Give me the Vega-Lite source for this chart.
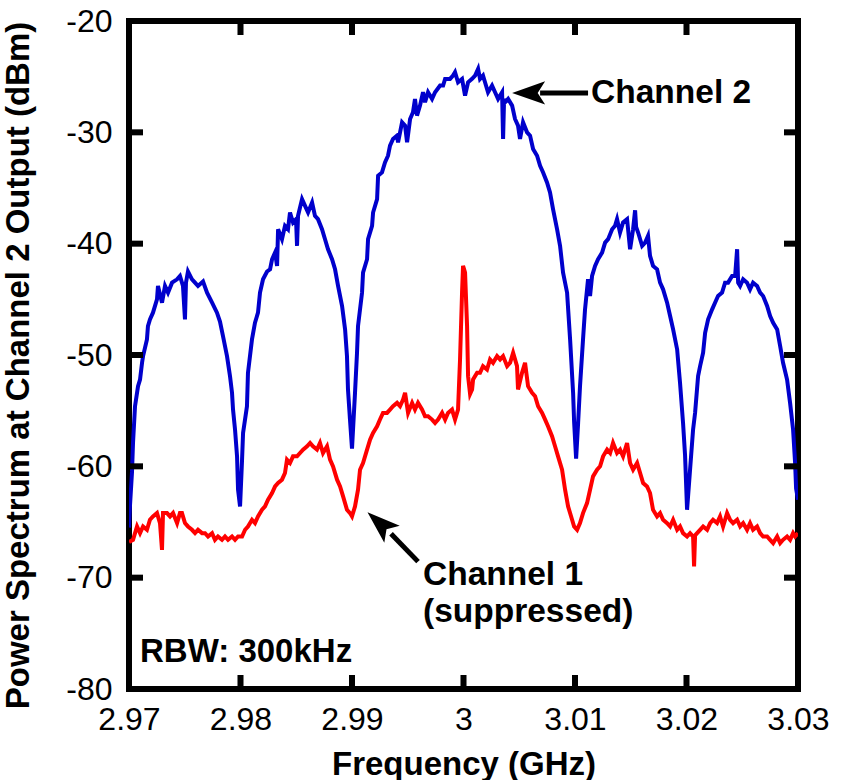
{
  "$schema": "https://vega.github.io/schema/vega-lite/v6.json",
  "width": 669,
  "height": 668,
  "autosize": {"type": "none"},
  "padding": {"left": 129, "top": 21, "right": 48, "bottom": 91},
  "background": "white",
  "config": {
    "view": {"stroke": "black", "strokeWidth": 6},
    "point": {"filled": true, "color": "black", "opacity": 1},
    "axis": {
      "domain": false,
      "grid": false,
      "tickColor": "black",
      "tickOpacity": 0,
      "tickWidth": 5,
      "tickSize": -12,
      "labelFont": "Liberation Sans",
      "labelFontSize": 32,
      "labelColor": "black",
      "titleFont": "Liberation Sans",
      "titleFontSize": 33,
      "titleFontWeight": "bold",
      "titleColor": "black"
    }
  },
  "datasets": {
    "blue": [
      {"f": 2.97, "v": -65.5}, {"f": 2.97009, "v": -63.5}, {"f": 2.97027, "v": -60.5}, {"f": 2.97036, "v": -57.9}, {"f": 2.97054, "v": -54.6}, {"f": 2.97081, "v": -52.8}, {"f": 2.97099, "v": -52.2}, {"f": 2.97117, "v": -50.7}, {"f": 2.97126, "v": -50.1}, {"f": 2.97161, "v": -48.6}, {"f": 2.9717, "v": -47.4}, {"f": 2.97188, "v": -46.8}, {"f": 2.97215, "v": -46.2}, {"f": 2.97251, "v": -45.0}, {"f": 2.9726, "v": -43.8}, {"f": 2.97296, "v": -45.3}, {"f": 2.97323, "v": -43.8}, {"f": 2.9735, "v": -44.4}, {"f": 2.97386, "v": -43.5}, {"f": 2.97431, "v": -43.2}, {"f": 2.97457, "v": -42.9}, {"f": 2.97484, "v": -43.8}, {"f": 2.97502, "v": -46.8}, {"f": 2.97511, "v": -43.5}, {"f": 2.97529, "v": -42.5}, {"f": 2.97565, "v": -43.2}, {"f": 2.97592, "v": -43.5}, {"f": 2.97619, "v": -43.8}, {"f": 2.97664, "v": -43.4}, {"f": 2.977, "v": -44.4}, {"f": 2.97745, "v": -45.3}, {"f": 2.97789, "v": -46.2}, {"f": 2.97816, "v": -47.0}, {"f": 2.97843, "v": -48.3}, {"f": 2.97879, "v": -50.1}, {"f": 2.97906, "v": -51.9}, {"f": 2.97924, "v": -53.4}, {"f": 2.97933, "v": -54.9}, {"f": 2.97951, "v": -56.7}, {"f": 2.97969, "v": -59.1}, {"f": 2.97978, "v": -62.1}, {"f": 2.97996, "v": -63.6}, {"f": 2.98014, "v": -59.4}, {"f": 2.98023, "v": -57.0}, {"f": 2.98058, "v": -54.6}, {"f": 2.98067, "v": -51.6}, {"f": 2.98103, "v": -48.6}, {"f": 2.9813, "v": -47.1}, {"f": 2.98157, "v": -46.2}, {"f": 2.98175, "v": -44.4}, {"f": 2.98202, "v": -43.2}, {"f": 2.98238, "v": -42.5}, {"f": 2.98265, "v": -42.3}, {"f": 2.98283, "v": -41.4}, {"f": 2.9831, "v": -40.8}, {"f": 2.98328, "v": -42.0}, {"f": 2.98337, "v": -38.7}, {"f": 2.98372, "v": -39.6}, {"f": 2.98399, "v": -38.4}, {"f": 2.98426, "v": -38.7}, {"f": 2.98444, "v": -37.2}, {"f": 2.98471, "v": -38.1}, {"f": 2.98498, "v": -37.8}, {"f": 2.98507, "v": -40.2}, {"f": 2.98516, "v": -37.5}, {"f": 2.98552, "v": -36.0}, {"f": 2.98579, "v": -36.6}, {"f": 2.98606, "v": -37.2}, {"f": 2.98642, "v": -36.3}, {"f": 2.98668, "v": -37.5}, {"f": 2.98695, "v": -37.8}, {"f": 2.98731, "v": -38.7}, {"f": 2.98758, "v": -39.6}, {"f": 2.98785, "v": -40.5}, {"f": 2.98821, "v": -41.4}, {"f": 2.98848, "v": -42.3}, {"f": 2.98875, "v": -43.8}, {"f": 2.98911, "v": -45.6}, {"f": 2.98938, "v": -47.7}, {"f": 2.98955, "v": -50.1}, {"f": 2.98964, "v": -53.1}, {"f": 2.98982, "v": -55.8}, {"f": 2.99, "v": -58.4}, {"f": 2.99027, "v": -53.4}, {"f": 2.99045, "v": -49.8}, {"f": 2.99054, "v": -47.4}, {"f": 2.9909, "v": -44.4}, {"f": 2.99099, "v": -42.6}, {"f": 2.99135, "v": -41.4}, {"f": 2.99144, "v": -39.6}, {"f": 2.9918, "v": -38.4}, {"f": 2.99189, "v": -37.2}, {"f": 2.99225, "v": -36.0}, {"f": 2.99234, "v": -33.9}, {"f": 2.99269, "v": -33.6}, {"f": 2.99296, "v": -32.7}, {"f": 2.99323, "v": -32.1}, {"f": 2.99341, "v": -31.2}, {"f": 2.99368, "v": -30.6}, {"f": 2.99404, "v": -30.3}, {"f": 2.99413, "v": -30.9}, {"f": 2.99449, "v": -29.1}, {"f": 2.99476, "v": -29.4}, {"f": 2.99494, "v": -30.9}, {"f": 2.99521, "v": -28.8}, {"f": 2.99547, "v": -28.2}, {"f": 2.99565, "v": -27.0}, {"f": 2.99583, "v": -28.5}, {"f": 2.9961, "v": -27.6}, {"f": 2.99637, "v": -26.4}, {"f": 2.99655, "v": -27.3}, {"f": 2.99682, "v": -26.4}, {"f": 2.99718, "v": -27.0}, {"f": 2.99745, "v": -26.4}, {"f": 2.9979, "v": -25.8}, {"f": 2.99817, "v": -25.8}, {"f": 2.99835, "v": -25.2}, {"f": 2.99879, "v": -25.2}, {"f": 2.99906, "v": -24.9}, {"f": 2.99924, "v": -24.6}, {"f": 2.99951, "v": -25.5}, {"f": 2.99987, "v": -25.2}, {"f": 3.00014, "v": -26.7}, {"f": 3.00041, "v": -25.5}, {"f": 3.00077, "v": -25.2}, {"f": 3.00104, "v": -24.9}, {"f": 3.00131, "v": -24.3}, {"f": 3.00148, "v": -25.2}, {"f": 3.00175, "v": -24.9}, {"f": 3.00193, "v": -25.5}, {"f": 3.0022, "v": -26.4}, {"f": 3.00256, "v": -25.8}, {"f": 3.00283, "v": -26.4}, {"f": 3.0031, "v": -27.0}, {"f": 3.00346, "v": -26.4}, {"f": 3.00355, "v": -30.6}, {"f": 3.00364, "v": -27.0}, {"f": 3.00373, "v": -27.3}, {"f": 3.004, "v": -27.0}, {"f": 3.00436, "v": -27.6}, {"f": 3.00462, "v": -28.8}, {"f": 3.00489, "v": -29.4}, {"f": 3.00507, "v": -30.6}, {"f": 3.00534, "v": -29.1}, {"f": 3.0057, "v": -30.0}, {"f": 3.00597, "v": -30.3}, {"f": 3.00624, "v": -31.5}, {"f": 3.0066, "v": -32.1}, {"f": 3.00687, "v": -33.0}, {"f": 3.00714, "v": -33.6}, {"f": 3.00749, "v": -34.5}, {"f": 3.00776, "v": -35.4}, {"f": 3.00803, "v": -36.9}, {"f": 3.00839, "v": -38.7}, {"f": 3.00866, "v": -40.2}, {"f": 3.00893, "v": -42.6}, {"f": 3.00929, "v": -44.4}, {"f": 3.00956, "v": -48.6}, {"f": 3.00983, "v": -53.4}, {"f": 3.00992, "v": -56.0}, {"f": 3.0101, "v": -59.3}, {"f": 3.01028, "v": -56.1}, {"f": 3.01045, "v": -52.8}, {"f": 3.01072, "v": -48.6}, {"f": 3.0109, "v": -45.9}, {"f": 3.01117, "v": -43.2}, {"f": 3.01135, "v": -44.7}, {"f": 3.01153, "v": -42.9}, {"f": 3.0118, "v": -42.0}, {"f": 3.01207, "v": -41.4}, {"f": 3.01243, "v": -40.8}, {"f": 3.0127, "v": -39.9}, {"f": 3.01297, "v": -39.6}, {"f": 3.01333, "v": -38.7}, {"f": 3.01359, "v": -38.4}, {"f": 3.01377, "v": -37.8}, {"f": 3.01404, "v": -39.0}, {"f": 3.01431, "v": -38.1}, {"f": 3.01467, "v": -37.8}, {"f": 3.01494, "v": -40.5}, {"f": 3.01521, "v": -38.7}, {"f": 3.01539, "v": -37.0}, {"f": 3.01548, "v": -38.5}, {"f": 3.01566, "v": -39.0}, {"f": 3.01602, "v": -40.2}, {"f": 3.01629, "v": -39.9}, {"f": 3.01655, "v": -39.3}, {"f": 3.01673, "v": -41.1}, {"f": 3.017, "v": -42.0}, {"f": 3.01736, "v": -42.3}, {"f": 3.01763, "v": -43.5}, {"f": 3.0179, "v": -44.1}, {"f": 3.01826, "v": -45.3}, {"f": 3.01853, "v": -46.5}, {"f": 3.0188, "v": -47.7}, {"f": 3.01916, "v": -49.5}, {"f": 3.01942, "v": -52.5}, {"f": 3.01969, "v": -56.1}, {"f": 3.01987, "v": -59.0}, {"f": 3.02005, "v": -63.9}, {"f": 3.02032, "v": -60.3}, {"f": 3.02059, "v": -56.7}, {"f": 3.02077, "v": -55.2}, {"f": 3.02104, "v": -51.9}, {"f": 3.02122, "v": -51.0}, {"f": 3.02149, "v": -49.8}, {"f": 3.02167, "v": -48.0}, {"f": 3.02194, "v": -46.8}, {"f": 3.0223, "v": -45.9}, {"f": 3.02256, "v": -45.3}, {"f": 3.02283, "v": -44.7}, {"f": 3.02319, "v": -44.4}, {"f": 3.02346, "v": -43.5}, {"f": 3.02373, "v": -43.5}, {"f": 3.02409, "v": -42.9}, {"f": 3.02436, "v": -42.9}, {"f": 3.02454, "v": -40.5}, {"f": 3.02463, "v": -43.5}, {"f": 3.02481, "v": -43.8}, {"f": 3.02508, "v": -43.2}, {"f": 3.02543, "v": -43.5}, {"f": 3.0257, "v": -44.1}, {"f": 3.02597, "v": -43.5}, {"f": 3.02633, "v": -43.8}, {"f": 3.0266, "v": -44.4}, {"f": 3.02687, "v": -44.7}, {"f": 3.02723, "v": -45.6}, {"f": 3.0275, "v": -46.5}, {"f": 3.02777, "v": -47.1}, {"f": 3.02813, "v": -47.7}, {"f": 3.0284, "v": -49.2}, {"f": 3.02866, "v": -50.7}, {"f": 3.02902, "v": -52.2}, {"f": 3.02929, "v": -54.3}, {"f": 3.02956, "v": -56.7}, {"f": 3.02974, "v": -59.7}, {"f": 3.02983, "v": -62.0}, {"f": 3.03, "v": -63.0}
    ],
    "red": [
      {"f": 2.97, "v": -66.8}, {"f": 2.97036, "v": -66.6}, {"f": 2.97072, "v": -65.4}, {"f": 2.97099, "v": -66.0}, {"f": 2.97126, "v": -65.4}, {"f": 2.97161, "v": -65.7}, {"f": 2.97188, "v": -64.8}, {"f": 2.97215, "v": -64.5}, {"f": 2.97251, "v": -64.2}, {"f": 2.97278, "v": -65.1}, {"f": 2.97296, "v": -67.5}, {"f": 2.97305, "v": -64.2}, {"f": 2.97341, "v": -64.2}, {"f": 2.97368, "v": -64.5}, {"f": 2.97395, "v": -64.2}, {"f": 2.97431, "v": -65.1}, {"f": 2.97457, "v": -64.2}, {"f": 2.97475, "v": -64.2}, {"f": 2.97502, "v": -65.1}, {"f": 2.97529, "v": -65.4}, {"f": 2.97565, "v": -65.7}, {"f": 2.97592, "v": -66.0}, {"f": 2.97619, "v": -65.7}, {"f": 2.97655, "v": -66.0}, {"f": 2.97682, "v": -66.0}, {"f": 2.97709, "v": -66.3}, {"f": 2.97745, "v": -66.0}, {"f": 2.97771, "v": -66.6}, {"f": 2.97798, "v": -66.3}, {"f": 2.97834, "v": -66.6}, {"f": 2.97861, "v": -66.3}, {"f": 2.97888, "v": -66.6}, {"f": 2.97924, "v": -66.3}, {"f": 2.97951, "v": -66.6}, {"f": 2.97978, "v": -66.3}, {"f": 2.98014, "v": -66.3}, {"f": 2.98041, "v": -65.7}, {"f": 2.98067, "v": -65.4}, {"f": 2.98103, "v": -64.8}, {"f": 2.9813, "v": -65.1}, {"f": 2.98157, "v": -64.5}, {"f": 2.98193, "v": -63.9}, {"f": 2.9822, "v": -63.6}, {"f": 2.98247, "v": -63.0}, {"f": 2.98283, "v": -62.4}, {"f": 2.9831, "v": -61.8}, {"f": 2.98337, "v": -61.5}, {"f": 2.98372, "v": -61.2}, {"f": 2.98399, "v": -60.6}, {"f": 2.98417, "v": -59.4}, {"f": 2.98444, "v": -59.7}, {"f": 2.98471, "v": -59.1}, {"f": 2.98507, "v": -59.1}, {"f": 2.98534, "v": -58.8}, {"f": 2.98561, "v": -58.5}, {"f": 2.98597, "v": -58.2}, {"f": 2.98624, "v": -57.9}, {"f": 2.9865, "v": -58.2}, {"f": 2.98686, "v": -58.5}, {"f": 2.98713, "v": -57.9}, {"f": 2.9874, "v": -58.8}, {"f": 2.98776, "v": -58.2}, {"f": 2.98803, "v": -59.4}, {"f": 2.9883, "v": -60.0}, {"f": 2.98866, "v": -61.2}, {"f": 2.98893, "v": -61.8}, {"f": 2.9892, "v": -62.7}, {"f": 2.98955, "v": -63.9}, {"f": 2.98982, "v": -64.2}, {"f": 2.99, "v": -64.5}, {"f": 2.99027, "v": -63.6}, {"f": 2.99054, "v": -62.1}, {"f": 2.99072, "v": -60.3}, {"f": 2.99099, "v": -59.7}, {"f": 2.99135, "v": -58.5}, {"f": 2.99162, "v": -57.6}, {"f": 2.99189, "v": -57.0}, {"f": 2.99225, "v": -56.4}, {"f": 2.99251, "v": -55.8}, {"f": 2.99278, "v": -55.2}, {"f": 2.99314, "v": -55.2}, {"f": 2.99341, "v": -54.9}, {"f": 2.99368, "v": -54.6}, {"f": 2.99404, "v": -54.3}, {"f": 2.99431, "v": -54.6}, {"f": 2.99458, "v": -54.0}, {"f": 2.99476, "v": -53.4}, {"f": 2.99503, "v": -55.2}, {"f": 2.99539, "v": -54.3}, {"f": 2.99565, "v": -54.9}, {"f": 2.99592, "v": -54.3}, {"f": 2.99628, "v": -54.9}, {"f": 2.99655, "v": -55.5}, {"f": 2.99682, "v": -55.5}, {"f": 2.99718, "v": -55.8}, {"f": 2.99745, "v": -56.1}, {"f": 2.99772, "v": -55.8}, {"f": 2.99808, "v": -55.2}, {"f": 2.99835, "v": -55.8}, {"f": 2.99861, "v": -55.2}, {"f": 2.99897, "v": -54.9}, {"f": 2.99924, "v": -55.8}, {"f": 2.99951, "v": -54.9}, {"f": 2.99969, "v": -50.4}, {"f": 2.99987, "v": -44.4}, {"f": 2.99996, "v": -42.0}, {"f": 3.00014, "v": -42.6}, {"f": 3.00032, "v": -47.4}, {"f": 3.00041, "v": -51.9}, {"f": 3.00059, "v": -53.5}, {"f": 3.00077, "v": -53.1}, {"f": 3.00086, "v": -52.2}, {"f": 3.00122, "v": -51.6}, {"f": 3.00148, "v": -51.6}, {"f": 3.00175, "v": -51.0}, {"f": 3.00211, "v": -51.3}, {"f": 3.00238, "v": -50.4}, {"f": 3.00265, "v": -50.7}, {"f": 3.00301, "v": -50.1}, {"f": 3.00328, "v": -50.4}, {"f": 3.00355, "v": -50.1}, {"f": 3.00391, "v": -51.0}, {"f": 3.00418, "v": -50.7}, {"f": 3.00445, "v": -49.8}, {"f": 3.0048, "v": -51.0}, {"f": 3.00489, "v": -53.1}, {"f": 3.00525, "v": -51.6}, {"f": 3.00552, "v": -50.7}, {"f": 3.00579, "v": -52.8}, {"f": 3.00615, "v": -53.4}, {"f": 3.00642, "v": -53.7}, {"f": 3.00669, "v": -54.6}, {"f": 3.00705, "v": -55.2}, {"f": 3.00732, "v": -55.8}, {"f": 3.00758, "v": -56.4}, {"f": 3.00794, "v": -57.3}, {"f": 3.00821, "v": -58.2}, {"f": 3.00848, "v": -59.1}, {"f": 3.00884, "v": -60.3}, {"f": 3.00911, "v": -62.1}, {"f": 3.00938, "v": -63.6}, {"f": 3.00974, "v": -64.8}, {"f": 3.00992, "v": -65.4}, {"f": 3.01019, "v": -65.7}, {"f": 3.01045, "v": -65.1}, {"f": 3.01072, "v": -64.2}, {"f": 3.01108, "v": -63.3}, {"f": 3.01135, "v": -62.1}, {"f": 3.01162, "v": -60.9}, {"f": 3.01198, "v": -60.3}, {"f": 3.01225, "v": -60.0}, {"f": 3.01252, "v": -59.1}, {"f": 3.01288, "v": -58.5}, {"f": 3.01315, "v": -58.8}, {"f": 3.01341, "v": -57.9}, {"f": 3.01377, "v": -58.8}, {"f": 3.01404, "v": -58.5}, {"f": 3.01431, "v": -59.1}, {"f": 3.01467, "v": -57.9}, {"f": 3.01494, "v": -59.7}, {"f": 3.01521, "v": -60.3}, {"f": 3.01557, "v": -59.7}, {"f": 3.01584, "v": -60.6}, {"f": 3.01611, "v": -61.5}, {"f": 3.01646, "v": -61.8}, {"f": 3.01673, "v": -62.4}, {"f": 3.017, "v": -63.9}, {"f": 3.01736, "v": -64.5}, {"f": 3.01763, "v": -64.2}, {"f": 3.0179, "v": -64.8}, {"f": 3.01826, "v": -65.1}, {"f": 3.01853, "v": -65.4}, {"f": 3.0188, "v": -64.8}, {"f": 3.01916, "v": -65.7}, {"f": 3.01942, "v": -65.4}, {"f": 3.01969, "v": -66.0}, {"f": 3.02005, "v": -66.3}, {"f": 3.02032, "v": -66.0}, {"f": 3.02059, "v": -66.3}, {"f": 3.02068, "v": -69.0}, {"f": 3.02077, "v": -66.2}, {"f": 3.02095, "v": -66.0}, {"f": 3.02122, "v": -65.7}, {"f": 3.02149, "v": -65.4}, {"f": 3.02185, "v": -65.7}, {"f": 3.02212, "v": -65.1}, {"f": 3.02238, "v": -64.8}, {"f": 3.02274, "v": -65.1}, {"f": 3.02301, "v": -64.5}, {"f": 3.02328, "v": -65.4}, {"f": 3.02364, "v": -64.2}, {"f": 3.02391, "v": -64.8}, {"f": 3.02418, "v": -65.1}, {"f": 3.02454, "v": -64.8}, {"f": 3.02481, "v": -65.4}, {"f": 3.02508, "v": -65.1}, {"f": 3.02543, "v": -65.7}, {"f": 3.0257, "v": -65.1}, {"f": 3.02597, "v": -65.7}, {"f": 3.02633, "v": -65.4}, {"f": 3.0266, "v": -66.0}, {"f": 3.02687, "v": -66.3}, {"f": 3.02723, "v": -66.3}, {"f": 3.0275, "v": -66.6}, {"f": 3.02777, "v": -66.9}, {"f": 3.02813, "v": -66.3}, {"f": 3.0284, "v": -66.9}, {"f": 3.02866, "v": -66.6}, {"f": 3.02902, "v": -66.3}, {"f": 3.02929, "v": -66.6}, {"f": 3.02956, "v": -66.0}, {"f": 3.02974, "v": -66.3}, {"f": 3.03, "v": -66.0}
    ]
  },
  "layer": [
    {
      "data": {"name": "blue"},
      "mark": {"type": "line", "color": "#0000cc", "strokeWidth": 4, "clip": true},
      "encoding": {
        "x": {
          "field": "f", "type": "quantitative",
          "scale": {"domain": [2.97, 3.03], "nice": false, "zero": false},
          "axis": {"orient": "bottom", "values": [2.97, 2.98, 2.99, 3, 3.01, 3.02, 3.03], "labelExpr": "'' + datum.value", "title": "Frequency (GHz)", "labelPadding": 27, "titlePadding": 13, "labelFlush": false}
        },
        "y": {
          "field": "v", "type": "quantitative",
          "scale": {"domain": [-80, -20], "nice": false, "zero": false},
          "axis": {"orient": "left", "values": [-80, -70, -60, -50, -40, -30, -20], "labelExpr": "'' + datum.value", "title": "Power Spectrum at Channel 2 Output (dBm)", "labelPadding": 29, "titlePadding": 30, "titleY": 344, "labelFlush": false}
        }
      }
    },
    {
      "data": {"name": "red"},
      "mark": {"type": "line", "color": "#ff0000", "strokeWidth": 4, "clip": true},
      "encoding": {
        "x": {"field": "f", "type": "quantitative", "axis": null},
        "y": {"field": "v", "type": "quantitative", "axis": null}
      }
    },
    {"data": {"values": [{}]}, "mark": {"type": "point", "shape": "M -0.43 -1 L 0.43 -1 L 0.43 1 L -0.43 1 Z", "size": 196}, "encoding": {"x": {"datum": 2.98, "type": "quantitative", "axis": null}, "y": {"datum": -79.37, "type": "quantitative", "axis": null}}},
    {"data": {"values": [{}]}, "mark": {"type": "point", "shape": "M -0.43 -1 L 0.43 -1 L 0.43 1 L -0.43 1 Z", "size": 196}, "encoding": {"x": {"datum": 2.99, "type": "quantitative", "axis": null}, "y": {"datum": -79.37, "type": "quantitative", "axis": null}}},
    {"data": {"values": [{}]}, "mark": {"type": "point", "shape": "M -0.43 -1 L 0.43 -1 L 0.43 1 L -0.43 1 Z", "size": 196}, "encoding": {"x": {"datum": 3.0, "type": "quantitative", "axis": null}, "y": {"datum": -79.37, "type": "quantitative", "axis": null}}},
    {"data": {"values": [{}]}, "mark": {"type": "point", "shape": "M -0.43 -1 L 0.43 -1 L 0.43 1 L -0.43 1 Z", "size": 196}, "encoding": {"x": {"datum": 3.01, "type": "quantitative", "axis": null}, "y": {"datum": -79.37, "type": "quantitative", "axis": null}}},
    {"data": {"values": [{}]}, "mark": {"type": "point", "shape": "M -0.43 -1 L 0.43 -1 L 0.43 1 L -0.43 1 Z", "size": 196}, "encoding": {"x": {"datum": 3.02, "type": "quantitative", "axis": null}, "y": {"datum": -79.37, "type": "quantitative", "axis": null}}},
    {"data": {"values": [{}]}, "mark": {"type": "point", "shape": "M -0.43 -1 L 0.43 -1 L 0.43 1 L -0.43 1 Z", "size": 196}, "encoding": {"x": {"datum": 2.98, "type": "quantitative", "axis": null}, "y": {"datum": -20.63, "type": "quantitative", "axis": null}}},
    {"data": {"values": [{}]}, "mark": {"type": "point", "shape": "M -0.43 -1 L 0.43 -1 L 0.43 1 L -0.43 1 Z", "size": 196}, "encoding": {"x": {"datum": 2.99, "type": "quantitative", "axis": null}, "y": {"datum": -20.63, "type": "quantitative", "axis": null}}},
    {"data": {"values": [{}]}, "mark": {"type": "point", "shape": "M -0.43 -1 L 0.43 -1 L 0.43 1 L -0.43 1 Z", "size": 196}, "encoding": {"x": {"datum": 3.0, "type": "quantitative", "axis": null}, "y": {"datum": -20.63, "type": "quantitative", "axis": null}}},
    {"data": {"values": [{}]}, "mark": {"type": "point", "shape": "M -0.43 -1 L 0.43 -1 L 0.43 1 L -0.43 1 Z", "size": 196}, "encoding": {"x": {"datum": 3.01, "type": "quantitative", "axis": null}, "y": {"datum": -20.63, "type": "quantitative", "axis": null}}},
    {"data": {"values": [{}]}, "mark": {"type": "point", "shape": "M -0.43 -1 L 0.43 -1 L 0.43 1 L -0.43 1 Z", "size": 196}, "encoding": {"x": {"datum": 3.02, "type": "quantitative", "axis": null}, "y": {"datum": -20.63, "type": "quantitative", "axis": null}}},
    {"data": {"values": [{}]}, "mark": {"type": "point", "shape": "M -1 -0.43 L 1 -0.43 L 1 0.43 L -1 0.43 Z", "size": 196}, "encoding": {"x": {"datum": 2.970628, "type": "quantitative", "axis": null}, "y": {"datum": -70, "type": "quantitative", "axis": null}}},
    {"data": {"values": [{}]}, "mark": {"type": "point", "shape": "M -1 -0.43 L 1 -0.43 L 1 0.43 L -1 0.43 Z", "size": 196}, "encoding": {"x": {"datum": 2.970628, "type": "quantitative", "axis": null}, "y": {"datum": -60, "type": "quantitative", "axis": null}}},
    {"data": {"values": [{}]}, "mark": {"type": "point", "shape": "M -1 -0.43 L 1 -0.43 L 1 0.43 L -1 0.43 Z", "size": 196}, "encoding": {"x": {"datum": 2.970628, "type": "quantitative", "axis": null}, "y": {"datum": -50, "type": "quantitative", "axis": null}}},
    {"data": {"values": [{}]}, "mark": {"type": "point", "shape": "M -1 -0.43 L 1 -0.43 L 1 0.43 L -1 0.43 Z", "size": 196}, "encoding": {"x": {"datum": 2.970628, "type": "quantitative", "axis": null}, "y": {"datum": -40, "type": "quantitative", "axis": null}}},
    {"data": {"values": [{}]}, "mark": {"type": "point", "shape": "M -1 -0.43 L 1 -0.43 L 1 0.43 L -1 0.43 Z", "size": 196}, "encoding": {"x": {"datum": 2.970628, "type": "quantitative", "axis": null}, "y": {"datum": -30, "type": "quantitative", "axis": null}}},
    {"data": {"values": [{}]}, "mark": {"type": "point", "shape": "M -1 -0.43 L 1 -0.43 L 1 0.43 L -1 0.43 Z", "size": 196}, "encoding": {"x": {"datum": 3.029372, "type": "quantitative", "axis": null}, "y": {"datum": -70, "type": "quantitative", "axis": null}}},
    {"data": {"values": [{}]}, "mark": {"type": "point", "shape": "M -1 -0.43 L 1 -0.43 L 1 0.43 L -1 0.43 Z", "size": 196}, "encoding": {"x": {"datum": 3.029372, "type": "quantitative", "axis": null}, "y": {"datum": -60, "type": "quantitative", "axis": null}}},
    {"data": {"values": [{}]}, "mark": {"type": "point", "shape": "M -1 -0.43 L 1 -0.43 L 1 0.43 L -1 0.43 Z", "size": 196}, "encoding": {"x": {"datum": 3.029372, "type": "quantitative", "axis": null}, "y": {"datum": -50, "type": "quantitative", "axis": null}}},
    {"data": {"values": [{}]}, "mark": {"type": "point", "shape": "M -1 -0.43 L 1 -0.43 L 1 0.43 L -1 0.43 Z", "size": 196}, "encoding": {"x": {"datum": 3.029372, "type": "quantitative", "axis": null}, "y": {"datum": -40, "type": "quantitative", "axis": null}}},
    {"data": {"values": [{}]}, "mark": {"type": "point", "shape": "M -1 -0.43 L 1 -0.43 L 1 0.43 L -1 0.43 Z", "size": 196}, "encoding": {"x": {"datum": 3.029372, "type": "quantitative", "axis": null}, "y": {"datum": -30, "type": "quantitative", "axis": null}}},
    {
      "data": {"values": [{}]},
      "mark": {"type": "text", "text": "Channel 2", "align": "left", "baseline": "middle", "font": "Liberation Sans", "fontWeight": "bold", "fontSize": 33.5, "color": "black"},
      "encoding": {
        "x": {"datum": 3.01144, "type": "quantitative", "axis": null},
        "y": {"datum": -26.5, "type": "quantitative", "axis": null}
      }
    },
    {
      "data": {"values": [{}]},
      "mark": {"type": "text", "text": "Channel 1", "align": "left", "baseline": "middle", "font": "Liberation Sans", "fontWeight": "bold", "fontSize": 33.5, "color": "black"},
      "encoding": {
        "x": {"datum": 2.99637, "type": "quantitative", "axis": null},
        "y": {"datum": -69.8, "type": "quantitative", "axis": null}
      }
    },
    {
      "data": {"values": [{}]},
      "mark": {"type": "text", "text": "(suppressed)", "align": "left", "baseline": "middle", "font": "Liberation Sans", "fontWeight": "bold", "fontSize": 33.5, "color": "black"},
      "encoding": {
        "x": {"datum": 2.99637, "type": "quantitative", "axis": null},
        "y": {"datum": -73.05, "type": "quantitative", "axis": null}
      }
    },
    {
      "data": {"values": [{}]},
      "mark": {"type": "text", "text": "RBW: 300kHz", "align": "left", "baseline": "middle", "font": "Liberation Sans", "fontWeight": "bold", "fontSize": 33, "color": "black"},
      "encoding": {
        "x": {"datum": 2.97099, "type": "quantitative", "axis": null},
        "y": {"datum": -76.64, "type": "quantitative", "axis": null}
      }
    },
    {
      "data": {"values": [{}]},
      "mark": {"type": "rule", "color": "black", "strokeWidth": 5},
      "encoding": {
        "x": {"datum": 3.00687, "type": "quantitative", "axis": null},
        "x2": {"datum": 3.01117},
        "y": {"datum": -26.46, "type": "quantitative", "axis": null},
        "y2": {"datum": -26.46}
      }
    },
    {
      "data": {"values": [{}]},
      "mark": {"type": "rule", "color": "black", "strokeWidth": 5},
      "encoding": {
        "x": {"datum": 2.9935, "type": "quantitative", "axis": null},
        "x2": {"datum": 2.99592},
        "y": {"datum": -66.05, "type": "quantitative", "axis": null},
        "y2": {"datum": -68.56}
      }
    },
    {
      "data": {"values": [{}]},
      "mark": {"type": "point", "shape": "M -1 0 L 1 -0.7 L 0.55 0 L 1 0.7 Z", "filled": true, "color": "black", "opacity": 1, "size": 1089, "angle": 0},
      "encoding": {
        "x": {"datum": 3.00584, "type": "quantitative", "axis": null},
        "y": {"datum": -26.46, "type": "quantitative", "axis": null}
      }
    },
    {
      "data": {"values": [{}]},
      "mark": {"type": "point", "shape": "M -1 0 L 1 -0.7 L 0.55 0 L 1 0.7 Z", "filled": true, "color": "black", "opacity": 1, "size": 1089, "angle": 42},
      "encoding": {
        "x": {"datum": 2.99249, "type": "quantitative", "axis": null},
        "y": {"datum": -65.11, "type": "quantitative", "axis": null}
      }
    }
  ],
  "resolve": {"axis": {"x": "independent", "y": "independent"}}
}
